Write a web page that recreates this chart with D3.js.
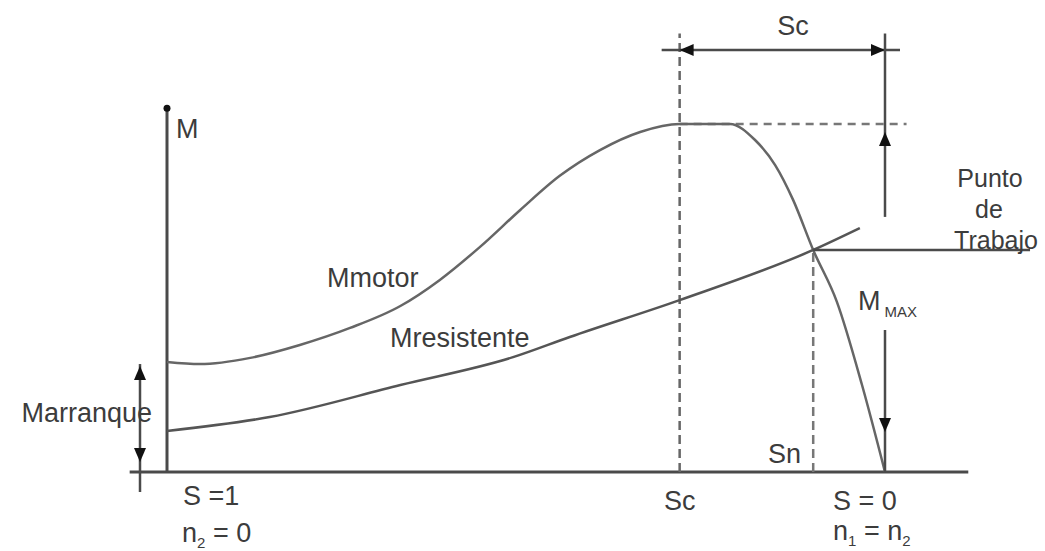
<!DOCTYPE html>
<html>
<head>
<meta charset="utf-8">
<script src="https://cdn.jsdelivr.net/npm/d3@7"></script>
<style>
body{margin:0;background:#fff;}
text{font-family:"Liberation Sans",Arial,sans-serif;fill:#3c3c3c;font-size:27px;}
</style>
</head>
<body>
<div id="chart"></div>
<script>
// Slip s (1 = start, 0 = synchronous speed) and torque relative to Mmax
const motorSlip   = [1, .954, .884, .815, .745, .675, .620, .564, .508, .453, .397, .341, .286, .216, .181, .153, .128, .100, .067, .032, 0];
const motorTorque = [.316, .310, .328, .365, .414, .477, .552, .647, .753, .851, .925, .977, 1, 1, .954, .882, .782, .638, .489, .250, 0];
const loadSlip    = [1, .857, .675, .518, .439, .286, .100, .035];
const loadTorque  = [.118, .158, .250, .330, .388, .494, .638, .701];

const sCrit = 0.286, sNom = 0.100;
const mMax = 1, mStart = 0.316, mWork = 0.638;
const slipDomain = [1.052, -0.116];
const dimLevel = 1.213;

const width = 1045, height = 551;
const x = d3.scaleLinear().domain([1, 0]).range([167, 885]);
const y = d3.scaleLinear().domain([0, 1]).range([472, 124]);

const svg = d3.select('#chart').append('svg')
    .attr('width', width)
    .attr('height', height);

const ink = '#4a4a4a';

function seg(x1, y1, x2, y2, w = 2.5, dash = null, color = ink) {
    const l = svg.append('line')
        .attr('x1', x1).attr('y1', y1).attr('x2', x2).attr('y2', y2)
        .attr('stroke', color).attr('stroke-width', w);
    if (dash) l.attr('stroke-dasharray', dash);
    return l;
}

// filled arrow head, tip at (tx,ty)
function head(tx, ty, dir) {
    const L = 14, W = 6;
    let pts;
    if (dir === 'up') pts = [[tx, ty], [tx - W, ty + L], [tx + W, ty + L]];
    if (dir === 'down') pts = [[tx, ty], [tx - W, ty - L], [tx + W, ty - L]];
    if (dir === 'left') pts = [[tx, ty], [tx + L, ty - W], [tx + L, ty + W]];
    if (dir === 'right') pts = [[tx, ty], [tx - L, ty - W], [tx - L, ty + W]];
    svg.append('path').attr('d', 'M' + pts.join('L') + 'Z').attr('fill', '#111');
}

// Axes
seg(x(slipDomain[0]), y(0), x(slipDomain[1]), y(0), 3);
seg(x(1), y(0), x(1), y(1.045), 3);
svg.append('circle').attr('cx', x(1)).attr('cy', y(1.045)).attr('r', 3.5).attr('fill', '#111');

// Dashed guides
seg(x(sCrit), y(0), x(sCrit), y(1.26), 2.5, '9,5', '#666');
seg(x(sCrit), y(mMax), x(-0.03), y(mMax), 2.5, '8,6', '#777');
seg(x(sNom), y(0), x(sNom), y(mWork), 2.5, '9,5', '#777');

// Curves
const line = d3.line().x(d => x(d[0])).y(d => y(d[1])).curve(d3.curveMonotoneX);
svg.append('path')
    .datum(motorSlip.map((s, i) => [s, motorTorque[i]]))
    .attr('d', line).attr('fill', 'none').attr('stroke', '#666').attr('stroke-width', 2.5);
svg.append('path')
    .datum(loadSlip.map((s, i) => [s, loadTorque[i]]))
    .attr('d', line).attr('fill', 'none').attr('stroke', '#555').attr('stroke-width', 2.5);

// Marranque arrow
const xa = x(1) - 27;
seg(xa, y(mStart) + 2, xa, y(0) + 20, 2.5);
head(xa, y(mStart) + 4, 'up');
head(xa, y(0) - 10, 'down');

// Sc dimension
seg(x(sCrit) - 18, y(dimLevel), x(0) + 15, y(dimLevel), 2.5);
head(x(sCrit), y(dimLevel), 'left');
head(x(0), y(dimLevel), 'right');
seg(x(0), y(1.26), x(0), y(0.733), 2.5);
head(x(0), y(mMax) + 8, 'up');

// Mmax arrow
seg(x(0), y(0.408), x(0), y(0), 2.5);
head(x(0), y(0.115), 'down');

// Punto de trabajo
seg(x(sNom), y(mWork), x(-0.202), y(mWork), 2.5);

// Labels
function label(t, px, py, anchor = 'start', size = 27) {
    return svg.append('text').attr('x', px).attr('y', py)
        .attr('text-anchor', anchor).style('font-size', size + 'px').text(t);
}
label('M', x(1) + 9, 138);
label('Marranque', xa + 12, 422, 'end');
label('Mmotor', 327, 287);
label('Mresistente', 390, 347);
label('Sc', 793, 35, 'middle');
label('Punto', 990, 187, 'middle', 25);
label('de', 989, 218, 'middle', 25);
label('Trabajo', 996, 249, 'middle', 25);
const mm = label('M', 858, 310);
mm.append('tspan').attr('dx', 4).attr('dy', 7).style('font-size', '15px').text('MAX');
label('Sn', 768, 463);
label('Sc', x(sCrit), 510, 'middle');
label('S = 0', 833, 510);
label('S =1', 183, 505);

const n1 = label('n', 833, 540);
n1.append('tspan').attr('dy', 6).style('font-size', '15px').text('1');
n1.append('tspan').attr('dy', -6).text(' = n');
n1.append('tspan').attr('dy', 6).style('font-size', '15px').text('2');

const n2 = label('n', 182, 542);
n2.append('tspan').attr('dy', 6).style('font-size', '15px').text('2');
n2.append('tspan').attr('dy', -6).text(' = 0');
</script>
</body>
</html>
